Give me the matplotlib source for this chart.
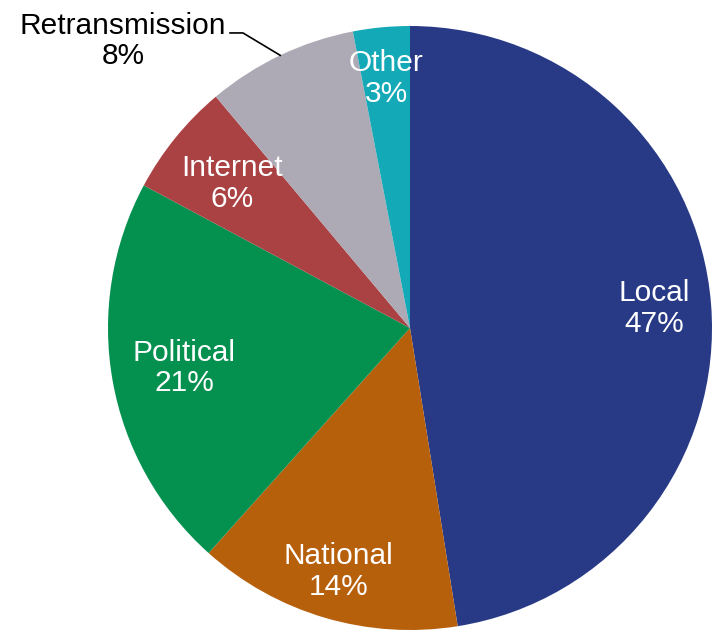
import numpy as np
import matplotlib
import matplotlib.pyplot as plt

matplotlib.use('Agg')
plt.rcParams['font.family'] = ['Liberation Sans', 'DejaVu Sans']

categories = ["Local", "National", "Political", "Internet", "Retransmission", "Other"]
shares = [47, 14, 21, 6, 8, 3]
colors = ["#283A85", "#B7600C", "#04904F", "#AA4143", "#ADAAB5", "#13A9B6"]
# radial position of each label, as a fraction of the radius
label_r = [0.81, 0.84, 0.76, 0.76, None, 0.83]

fig = plt.figure(figsize=(7.13, 6.34), dpi=100)
W, H = 713, 634
cx, cy, R = 410, 328, 302
ax = fig.add_axes([(cx - R) / W, (H - cy - R) / H, 2 * R / W, 2 * R / H])

wedges, _ = ax.pie(shares, colors=colors, startangle=90, counterclock=False,
                   radius=1, wedgeprops=dict(linewidth=0))
ax.set_xlim(-1, 1)
ax.set_ylim(-1, 1)
ax.axis('off')

for w, name, val, r in zip(wedges, categories, shares, label_r):
    mid = np.deg2rad((w.theta1 + w.theta2) / 2)
    if r is None:
        # outside label with leader line
        ex, ey = np.cos(mid), np.sin(mid)
        ax.plot([ex, -0.553, -0.596], [ey, 0.977, 0.977], color="black", lw=1.2,
                clip_on=False)
        ax.text(-0.95, 0.95, f"{name}\n{val}%", ha="center", va="center",
                fontsize=21.5, color="black", linespacing=1.12)
        continue
    ax.text(r * np.cos(mid), r * np.sin(mid), f"{name}\n{val}%", ha="center",
            va="center", fontsize=21.5, color="white", linespacing=1.12)

fig.savefig("out.png", dpi=100)
